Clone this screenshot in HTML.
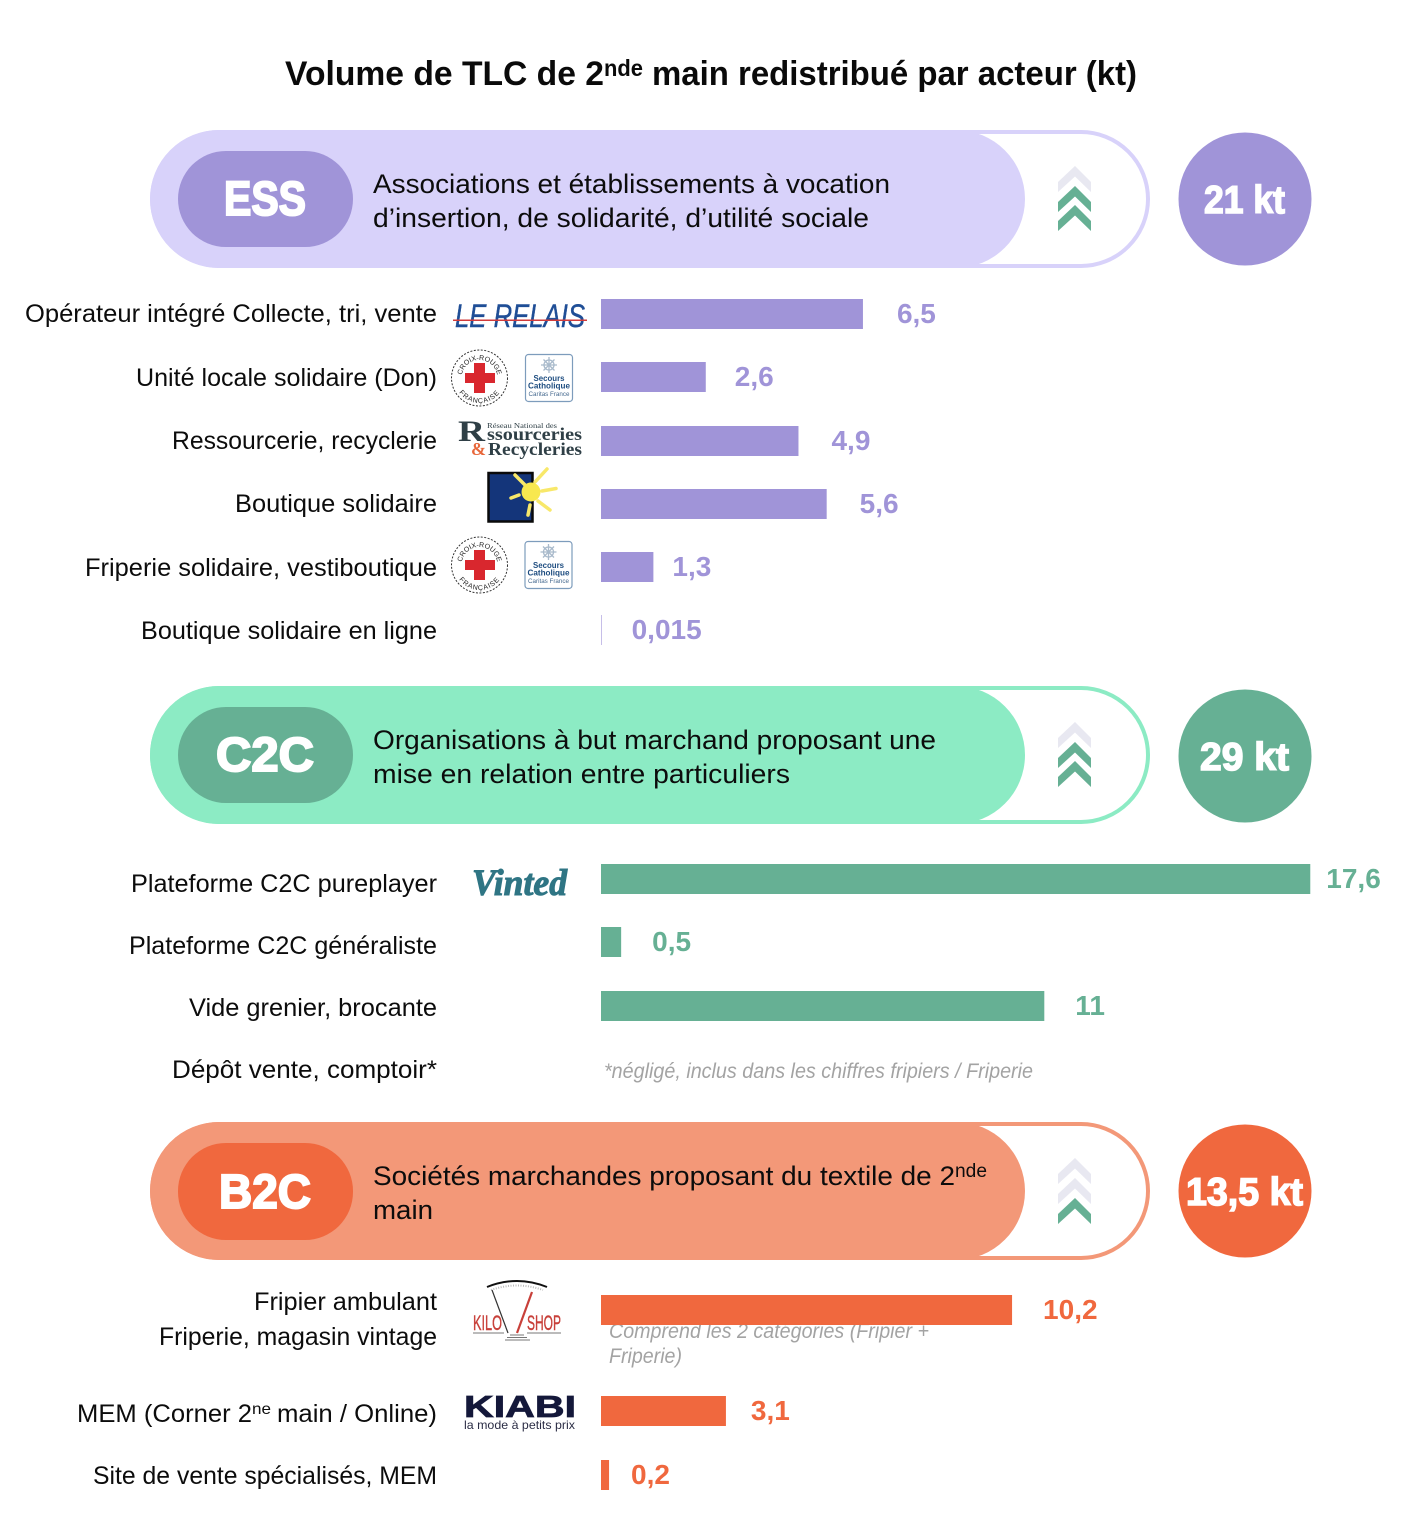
<!DOCTYPE html>
<html lang="fr">
<head>
<meta charset="utf-8">
<title>Volume de TLC de 2nde main redistribué par acteur (kt)</title>
<style>
html,body{margin:0;padding:0;background:#fff}
svg{display:block}
text{font-family:"Liberation Sans",sans-serif}
.lbl{font-size:25px;fill:#0c0c0c}
.desc{font-size:27px;fill:#0c0c0c}
.val{font-size:28px;font-weight:700}
.note{font-size:21px;font-style:italic;fill:#a3a3a3}
.tag{font-size:48px;font-weight:700;fill:#fff;stroke:#fff;stroke-width:2px}
.tot{font-size:39px;font-weight:700;fill:#fff;stroke:#fff;stroke-width:1.500px}
.serif{font-family:"Liberation Serif",serif;font-weight:700}
</style>
</head>
<body>
<svg id="chart" xmlns="http://www.w3.org/2000/svg" width="1424" height="1528" viewBox="0 0 1424 1528">
<defs>
<polygon id="chev" points="1075,0 1091,16 1091,26 1075,10.500 1058,26 1058,16"/>
<path id="crp1" d="M461.500,378a18,18 0 0 1 36,0"/>
<path id="crp2" d="M454.500,378a25,25 0 0 0 50,0"/>
<g id="croix">
<circle cx="479.500" cy="378" r="28" fill="#fff" stroke="#333" stroke-width="1" stroke-dasharray="2 1.500"/>
<rect x="474" y="363" width="11" height="30" fill="#d9272e"/>
<rect x="465" y="373" width="30" height="10" fill="#d9272e"/>
<text font-size="7" fill="#222" text-anchor="middle"><textPath href="#crp1" startOffset="50%">CROIX-ROUGE</textPath></text>
<text font-size="7" fill="#222" text-anchor="middle" letter-spacing=".8"><textPath href="#crp2" startOffset="50%">FRANÇAISE</textPath></text>
</g>
<g id="secours">
<rect x="525.500" y="354.500" width="47" height="47" rx="3" fill="#fff" stroke="#7d9cbc" stroke-width="1.200"/>
<g stroke="#a9bacb" stroke-width="1.300" fill="none">
<circle cx="549" cy="365" r="5"/><path d="M549 357v16M541 365h16M543.500 359.500l11 11M554.500 359.500l-11 11"/>
</g>
<text x="549" y="381" font-size="8.500" text-anchor="middle" fill="#1e4d80" font-weight="700" textLength="31" lengthAdjust="spacingAndGlyphs">Secours</text>
<text x="549" y="388.500" font-size="8.500" text-anchor="middle" fill="#1e4d80" font-weight="700" textLength="42" lengthAdjust="spacingAndGlyphs">Catholique</text>
<text x="549" y="396" font-size="6" text-anchor="middle" fill="#44688e" textLength="41" lengthAdjust="spacingAndGlyphs">Caritas France</text>
</g>
</defs>

<g font-weight="700" fill="#0a0a0a">
<text x="285" y="85" font-size="34" textLength="319" lengthAdjust="spacingAndGlyphs">Volume de TLC de 2</text>
<text x="604" y="76" font-size="23" textLength="39" lengthAdjust="spacingAndGlyphs">nde</text>
<text x="652" y="85" font-size="34" textLength="485" lengthAdjust="spacingAndGlyphs">main redistribué par acteur (kt)</text>
</g>

<!-- ESS header -->
<g>
<rect x="150" y="130" width="875" height="138" rx="69" fill="#d8d2fa"/>
<rect x="152" y="132" width="996" height="134" rx="67" fill="none" stroke="#d8d2fa" stroke-width="4"/>
<rect x="178" y="151" width="175" height="96" rx="48" fill="#a094d8"/>
<text class="tag" x="224" y="215" textLength="82" lengthAdjust="spacingAndGlyphs">ESS</text>
<text class="desc" x="373" y="193" textLength="517" lengthAdjust="spacingAndGlyphs">Associations et établissements à vocation</text>
<text class="desc" x="373" y="227" textLength="496" lengthAdjust="spacingAndGlyphs">d’insertion, de solidarité, d’utilité sociale</text>
<g>
<use href="#chev" y="166" fill="#e8e8f1"/><use href="#chev" y="186" fill="#66b094"/><use href="#chev" y="205" fill="#66b094"/>
</g>
<circle cx="1245" cy="199" r="66.500" fill="#a094d8"/>
<text class="tot" x="1204" y="213" textLength="81" lengthAdjust="spacingAndGlyphs">21 kt</text>
</g>

<!-- ESS rows -->
<g data-section="ess">
<g data-row data-top="299" data-gap="34"><text class="lbl" x="25" y="322" textLength="412" lengthAdjust="spacingAndGlyphs">Opérateur intégré Collecte, tri, vente</text></g>
<g data-row data-top="362" data-gap="29"><text class="lbl" x="136" y="386" textLength="301" lengthAdjust="spacingAndGlyphs">Unité locale solidaire (Don)</text></g>
<g data-row data-top="426" data-gap="33"><text class="lbl" x="172" y="449" textLength="265" lengthAdjust="spacingAndGlyphs">Ressourcerie, recyclerie</text></g>
<g data-row data-top="489" data-gap="33"><text class="lbl" x="235" y="512" textLength="202" lengthAdjust="spacingAndGlyphs">Boutique solidaire</text></g>
<g data-row data-top="552" data-gap="19"><text class="lbl" x="85" y="576" textLength="352" lengthAdjust="spacingAndGlyphs">Friperie solidaire, vestiboutique</text></g>
<g data-row data-top="615" data-gap="30"><text class="lbl" x="141" y="639" textLength="296" lengthAdjust="spacingAndGlyphs">Boutique solidaire en ligne</text></g>
</g>

<!-- ESS logos -->
<g>
<text x="455" y="327" font-size="32" font-style="italic" fill="#1f4e96" stroke="#1f4e96" stroke-width=".4" textLength="130" lengthAdjust="spacingAndGlyphs">LE RELAIS</text>
<rect x="453" y="319.500" width="134" height="1.500" fill="#d23b3b"/>
</g>
<use href="#croix"/>
<use href="#secours"/>
<g fill="#2f3f46">
<text class="serif" x="458" y="441" font-size="30" textLength="27" lengthAdjust="spacingAndGlyphs">R</text>
<text class="serif" x="487" y="428" font-size="7" style="font-weight:400" textLength="70" lengthAdjust="spacingAndGlyphs">Réseau National des</text>
<text class="serif" x="487" y="440" font-size="18" textLength="95" lengthAdjust="spacingAndGlyphs">ssourceries</text>
<text class="serif" x="471" y="455" font-size="18" fill="#e8673a">&amp;</text>
<text class="serif" x="488" y="455" font-size="18" textLength="94" lengthAdjust="spacingAndGlyphs">Recycleries</text>
</g>
<g>
<rect x="488.500" y="473" width="44" height="48.500" fill="#14357a" stroke="#0a0a0a" stroke-width="2.500"/>
<g stroke="#f8e86a" stroke-width="3.500" stroke-linecap="round">
<path d="M515 475L527 487M535 482L547 469M542 491L556 488.500M538 501L550 510M530 505L528 515M519 495L511 498"/>
</g>
<circle cx="531" cy="492" r="9.500" fill="#f8e84f"/>
</g>
<use href="#croix" y="187"/>
<use href="#secours" x="-0.500" y="187"/>

<!-- C2C header -->
<g>
<rect x="150" y="686" width="875" height="138" rx="69" fill="#8cebc4"/>
<rect x="152" y="688" width="996" height="134" rx="67" fill="none" stroke="#8cebc4" stroke-width="4"/>
<rect x="178" y="707" width="175" height="96" rx="48" fill="#66b094"/>
<text class="tag" x="216" y="771" textLength="98" lengthAdjust="spacingAndGlyphs">C2C</text>
<text class="desc" x="373" y="749" textLength="563" lengthAdjust="spacingAndGlyphs">Organisations à but marchand proposant une</text>
<text class="desc" x="373" y="783" textLength="417" lengthAdjust="spacingAndGlyphs">mise en relation entre particuliers</text>
<g>
<use href="#chev" y="722" fill="#e8e8f1"/><use href="#chev" y="742" fill="#66b094"/><use href="#chev" y="761" fill="#66b094"/>
</g>
<circle cx="1245" cy="756" r="66.500" fill="#66b094"/>
<text class="tot" x="1200" y="770" textLength="89" lengthAdjust="spacingAndGlyphs">29 kt</text>
</g>

<!-- C2C rows -->
<g data-section="c2c">
<g data-row data-top="864" data-gap="16"><text class="lbl" x="131" y="892" textLength="306" lengthAdjust="spacingAndGlyphs">Plateforme C2C pureplayer</text></g>
<g data-row data-top="927" data-gap="31"><text class="lbl" x="129" y="954" textLength="308" lengthAdjust="spacingAndGlyphs">Plateforme C2C généraliste</text></g>
<g data-row data-top="991" data-gap="31"><text class="lbl" x="189" y="1016" textLength="248" lengthAdjust="spacingAndGlyphs">Vide grenier, brocante</text></g>
</g>
<text class="lbl" x="172" y="1078" textLength="265" lengthAdjust="spacingAndGlyphs">Dépôt vente, comptoir*</text>
<text class="note" x="604" y="1078" textLength="429" lengthAdjust="spacingAndGlyphs">*négligé, inclus dans les chiffres fripiers / Friperie</text>
<text x="472" y="895" font-size="37" font-weight="700" font-style="italic" fill="#2f7584" stroke="#2f7584" stroke-width="1" style="font-family:'Liberation Serif',serif" textLength="95" lengthAdjust="spacingAndGlyphs">Vinted</text>

<!-- B2C header -->
<g>
<rect x="150" y="1122" width="875" height="138" rx="69" fill="#f39878"/>
<rect x="152" y="1124" width="996" height="134" rx="67" fill="none" stroke="#f39878" stroke-width="4"/>
<rect x="178" y="1143" width="175" height="97" rx="48" fill="#f0683e"/>
<text class="tag" x="219" y="1208" textLength="92" lengthAdjust="spacingAndGlyphs">B2C</text>
<text class="desc" x="373" y="1185" textLength="582" lengthAdjust="spacingAndGlyphs">Sociétés marchandes proposant du textile de 2</text>
<text x="955" y="1177" font-size="19" fill="#0c0c0c" textLength="32" lengthAdjust="spacingAndGlyphs">nde</text>
<text class="desc" x="373" y="1219" textLength="60" lengthAdjust="spacingAndGlyphs">main</text>
<g>
<use href="#chev" y="1158" fill="#e8e8f1"/><use href="#chev" y="1178" fill="#e8e8f1"/><use href="#chev" y="1198" fill="#66b094"/>
</g>
<circle cx="1245" cy="1191" r="66.500" fill="#f0683e"/>
<text class="tot" x="1186" y="1205" textLength="117" lengthAdjust="spacingAndGlyphs">13,5 kt</text>
</g>

<!-- B2C note sits behind its bar -->
<g>
<text class="note" x="609" y="1338" textLength="320" lengthAdjust="spacingAndGlyphs">Comprend les 2 catégories (Fripier +</text>
<text class="note" x="609" y="1363" textLength="73" lengthAdjust="spacingAndGlyphs">Friperie)</text>
</g>

<!-- B2C rows -->
<g data-section="b2c">
<g data-row data-top="1295" data-gap="31">
<text class="lbl" x="254" y="1310" textLength="183" lengthAdjust="spacingAndGlyphs">Fripier ambulant</text>
<text class="lbl" x="159" y="1345" textLength="278" lengthAdjust="spacingAndGlyphs">Friperie, magasin vintage</text>
</g>
<g data-row data-top="1396" data-gap="25">
<text class="lbl" x="77" y="1422" textLength="175" lengthAdjust="spacingAndGlyphs">MEM (Corner 2</text>
<text x="252" y="1414" font-size="16" fill="#0c0c0c" textLength="19" lengthAdjust="spacingAndGlyphs">ne</text>
<text class="lbl" x="277" y="1422" textLength="160" lengthAdjust="spacingAndGlyphs">main / Online)</text>
</g>
<g data-row data-top="1460" data-gap="22"><text class="lbl" x="93" y="1484" textLength="344" lengthAdjust="spacingAndGlyphs">Site de vente spécialisés, MEM</text></g>
</g>

<!-- B2C logos -->
<g>
<path d="M487 1287Q517 1275 547 1287" fill="none" stroke="#111" stroke-width="2"/>
<path d="M491 1290Q517 1281 543 1290" fill="none" stroke="#bbb" stroke-width="2" stroke-dasharray="1 1.500"/>
<path d="M492 1290L508 1333" stroke="#333" stroke-width="1.200"/>
<path d="M532 1292L517 1333" stroke="#c8403a" stroke-width="2.200"/>
<text x="473" y="1330" font-size="21" fill="#c8403a" stroke="#c8403a" stroke-width=".4" textLength="29" lengthAdjust="spacingAndGlyphs">KILO</text>
<text x="527" y="1330" font-size="21" fill="#c8403a" stroke="#c8403a" stroke-width=".4" textLength="34" lengthAdjust="spacingAndGlyphs">SHOP</text>
<path d="M473 1333H504M527 1333H561M510 1335H524M507 1337.500H527M505 1340H530" stroke="#777" stroke-width="1"/>
</g>
<g>
<text x="464" y="1417" font-size="31" font-weight="700" fill="#14183a" stroke="#14183a" stroke-width=".8" textLength="112" lengthAdjust="spacingAndGlyphs">KIABI</text>
<text x="464" y="1429" font-size="12" fill="#2b2d45" textLength="111" lengthAdjust="spacingAndGlyphs">la mode à petits prix</text>
</g>

<script>
// Volume in kt per row, in top-to-bottom order
const essValues = [6.5, 2.6, 4.9, 5.6, 1.3, 0.015];
const c2cValues = [17.6, 0.5, 11];
const b2cValues = [10.2, 3.1, 0.2];

const seriesValues = { ess: essValues, c2c: c2cValues, b2c: b2cValues };
const seriesColors = { ess: '#a094d8', c2c: '#66b094', b2c: '#f0683e' };

const X0 = 601;
const PX_PER_KT = 40.3;
const BAR_H = 30;
const SVG_NS = 'http://www.w3.org/2000/svg';

function xScale(v) { return X0 + v * PX_PER_KT; }
function formatValue(v) { return String(v).replace('.', ','); }

document.querySelectorAll('[data-section]').forEach(function (section) {
  const key = section.getAttribute('data-section');
  const values = seriesValues[key];
  const color = seriesColors[key];
  section.querySelectorAll('[data-row]').forEach(function (row, i) {
    const v = values[i];
    const top = Number(row.getAttribute('data-top'));
    const gap = Number(row.getAttribute('data-gap'));
    const end = xScale(v);

    const bar = document.createElementNS(SVG_NS, 'rect');
    
    
    bar.setAttribute('x', X0);
    bar.setAttribute('y', top);
    bar.setAttribute('width', Math.max(end - X0, 0));
    bar.setAttribute('height', BAR_H);
    bar.setAttribute('fill', color);
    row.appendChild(bar);

    const label = document.createElementNS(SVG_NS, 'text');
    
    
    label.setAttribute('class', 'val');
    label.setAttribute('x', end + gap);
    label.setAttribute('y', top + BAR_H / 2 + 9);
    label.setAttribute('fill', color);
    label.textContent = formatValue(v);
    row.appendChild(label);
  });
});
</script>
</svg>
</body>
</html>
